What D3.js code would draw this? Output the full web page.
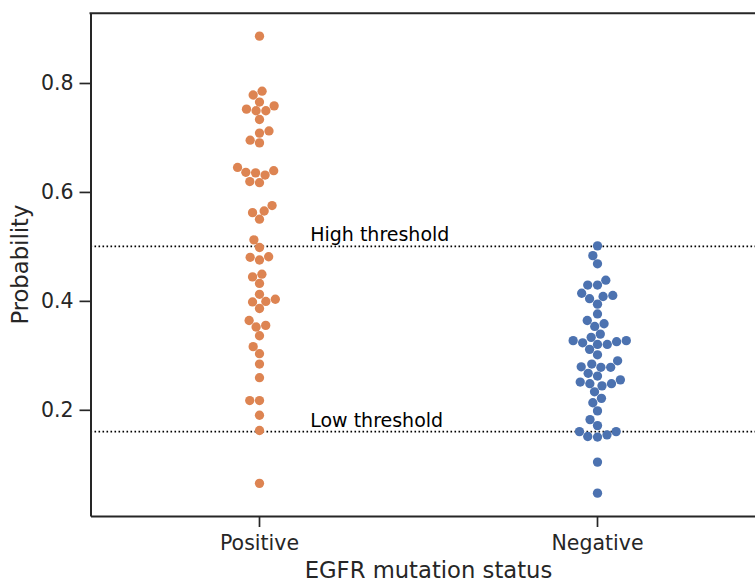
<!DOCTYPE html>
<html>
<head>
<meta charset="utf-8">
<script src="https://cdn.jsdelivr.net/npm/d3@7"></script>
<style>
  body { margin: 0; background: #fff; }
  svg { display: block; font-family: "DejaVu Sans", sans-serif; }
</style>
</head>
<body>
<script>
var width = 755
var height = 582

// data
var categories = ['Positive', 'Negative']
var positiveValues = [0.886, 0.785, 0.778, 0.765, 0.752, 0.749, 0.749, 0.758, 0.733, 0.708,
  0.712, 0.695, 0.690, 0.645, 0.636, 0.635, 0.631, 0.639, 0.619, 0.617,
  0.575, 0.565, 0.562, 0.550, 0.512, 0.498, 0.481, 0.480, 0.475, 0.449,
  0.444, 0.432, 0.412, 0.403, 0.399, 0.398, 0.386, 0.364, 0.355, 0.352,
  0.336, 0.316, 0.303, 0.284, 0.259, 0.217, 0.217, 0.190, 0.162, 0.065]
var negativeValues = [0.501, 0.483, 0.468, 0.438, 0.429, 0.429, 0.414, 0.410, 0.408, 0.404,
  0.394, 0.376, 0.364, 0.358, 0.353, 0.339, 0.333, 0.327, 0.327, 0.325,
  0.323, 0.320, 0.320, 0.311, 0.301, 0.290, 0.284, 0.279, 0.278, 0.278,
  0.267, 0.262, 0.255, 0.251, 0.248, 0.248, 0.244, 0.233, 0.221, 0.213,
  0.198, 0.182, 0.171, 0.160, 0.160, 0.154, 0.151, 0.150, 0.104, 0.047]
var thresholds = [
  { name: 'High threshold', value: 0.5 },
  { name: 'Low threshold', value: 0.16 }
]
var yTicks = [0.2, 0.4, 0.6, 0.8]
var colors = ['#DD8452', '#4C72B0']

var plot = { left: 90.5, right: 766.5, top: 13.3, bottom: 516 }
var r = 4.65
var ink = '#262626'

var all = positiveValues.concat(negativeValues)
var lo = d3.min(all), hi = d3.max(all)
var pad = (hi - lo) * 0.05

var x = d3.scaleBand()
    .domain(categories)
    .range([plot.left, plot.right])
    .padding(0)

var y = d3.scaleLinear()
    .domain([lo - pad, hi + pad])
    .range([plot.bottom, plot.top])

var svg = d3.select('body').append('svg')
    .attr('width', width)
    .attr('height', height)

// seaborn-like beeswarm, in pixel space
function swarm (values, cx) {
  var pts = values.map(function (v) { return { v: v, x: cx, y: y(v) } })
    .sort(function (a, b) { return a.v - b.v })
  var placed = []
  pts.forEach(function (p, i) {
    if (i === 0) { placed.push(p); return }
    var nb = []
    for (var j = placed.length - 1; j >= 0; j--) {
      if (Math.abs(p.y - placed[j].y) < 2 * r) nb.push(placed[j])
      else break
    }
    var cands = [cx]
    var leftFirst = true
    nb.forEach(function (q) {
      var dy = p.y - q.y
      var dx = Math.sqrt(Math.max(4 * r * r - dy * dy, 0)) * 1.05
      if (leftFirst) cands.push(q.x - dx, q.x + dx)
      else cands.push(q.x + dx, q.x - dx)
      leftFirst = !leftFirst
    })
    cands = cands.map(function (c, k) { return { c: c, k: k, o: Math.abs(c - cx) } })
      .sort(function (a, b) {
        var d = a.o - b.o
        return Math.abs(d) > 1e-6 ? d : a.k - b.k
      })
    for (var k = 0; k < cands.length; k++) {
      var cxk = cands[k].c
      var ok = nb.every(function (q) {
        var ddx = cxk - q.x, ddy = p.y - q.y
        return ddx * ddx + ddy * ddy >= 4 * r * r - 1e-6
      })
      if (ok) { p.x = cxk; break }
    }
    placed.push(p)
  })
  return placed
}

// threshold lines
svg.selectAll('line.thr')
    .data(thresholds)
  .enter().append('line')
    .attr('class', 'thr')
    .attr('x1', plot.left)
    .attr('x2', plot.right)
    .attr('y1', function (d) { return y(d.value) })
    .attr('y2', function (d) { return y(d.value) })
    .style('stroke', '#000')
    .style('stroke-width', 1.6)
    .style('stroke-dasharray', '1.6,2.4')

svg.selectAll('text.thr')
    .data(thresholds)
  .enter().append('text')
    .attr('class', 'thr')
    .attr('x', x('Positive') + x.bandwidth() / 2 + 0.15 * x.bandwidth())
    .attr('y', function (d) { return y(d.value) - 5 })
    .style('font-size', '19px')
    .style('fill', '#000')
    .text(function (d) { return d.name })

// points
var groups = [positiveValues, negativeValues]
groups.forEach(function (vals, gi) {
  var cx = x(categories[gi]) + x.bandwidth() / 2
  svg.append('g').selectAll('circle')
      .data(swarm(vals, cx))
    .enter().append('circle')
      .attr('cx', function (d) { return d.x })
      .attr('cy', function (d) { return d.y })
      .attr('r', r)
      .style('fill', colors[gi])
})

// axes
var yAxis = svg.append('g')
    .attr('transform', 'translate(' + plot.left + ',0)')
    .call(d3.axisLeft(y).tickValues(yTicks).tickSize(11).tickSizeOuter(0)
      .tickPadding(6).tickFormat(d3.format('.1f')))

var xAxis = svg.append('g')
    .attr('transform', 'translate(0,' + plot.bottom + ')')
    .call(d3.axisBottom(x).tickSize(11).tickSizeOuter(0).tickPadding(6))

;[yAxis, xAxis].forEach(function (a) {
  a.selectAll('text').style('font-size', '20.5px').style('fill', ink)
    .style('font-family', '"DejaVu Sans", sans-serif')
  a.selectAll('.tick line').style('stroke', ink).style('stroke-width', 1.7)
  a.select('.domain').style('stroke', ink).style('stroke-width', 2)
})
xAxis.selectAll('text').attr('dy', null).attr('y', 34)

// top and right spines
svg.append('line')
    .attr('x1', plot.left - 1).attr('x2', plot.right)
    .attr('y1', plot.top).attr('y2', plot.top)
    .style('stroke', ink).style('stroke-width', 2)
svg.append('line')
    .attr('x1', plot.right).attr('x2', plot.right)
    .attr('y1', plot.top).attr('y2', plot.bottom)
    .style('stroke', ink).style('stroke-width', 2)

// axis labels
svg.append('text')
    .attr('x', (plot.left + plot.right) / 2)
    .attr('y', 578)
    .attr('text-anchor', 'middle')
    .style('font-size', '22.7px')
    .style('fill', ink)
    .text('EGFR mutation status')

svg.append('text')
    .attr('transform', 'translate(28,' + (plot.top + plot.bottom) / 2 + ') rotate(-90)')
    .attr('text-anchor', 'middle')
    .style('font-size', '22.7px')
    .style('fill', ink)
    .text('Probability')
</script>
</body>
</html>
